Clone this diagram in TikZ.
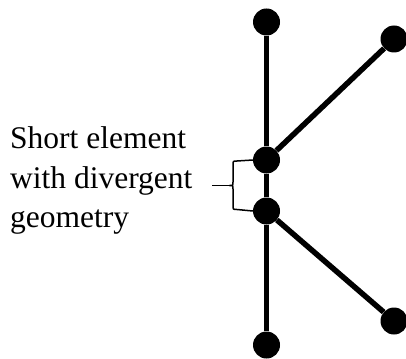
\documentclass[tikz,border=0pt]{standalone}
\usepackage{fontspec}
\setmainfont{Liberation Serif}
\usetikzlibrary{positioning}

\begin{document}
\begin{tikzpicture}[x=1pt, y=-1pt, dot/.style={circle, fill=black, minimum size=27pt, inner sep=0pt}, bar/.style={line width=5.5pt}, brace/.style={line width=1.5pt}]
    \useasboundingbox (0,0) rectangle (406,358);

    \node[dot] (v1) at (266.5,22) {};
    \node[dot] (v2) at (394,39) {};
    \node[dot] (v3) at (266.5,160) {};
    \node[dot] (v4) at (266.5,211) {};
    \node[dot] (v5) at (394,321) {};
    \node[dot] (v6) at (266.5,345) {};

    \draw[bar] (v1)--(v3)--(v4)--(v6);
    \draw[bar] (v3)--(v2);
    \draw[bar] (v4)--(v5);

    \node[align=left, anchor=west, inner sep=0pt, font=\fontsize{31.5}{39.5}\selectfont] (lbl) at (10,180.5) {Short element\\with divergent\\geometry};

    \coordinate (tip) at (229.5,185.5);
    \coordinate (lead) at (211.5,185.5);
    \draw[brace] (v3.west) -- (237,161) .. controls (233,161) .. (233,165) -- (233,182) .. controls (233,185.5) .. (tip) .. controls (233,185.5) .. (233,189) -- (233,205.5) .. controls (233,209.5) .. (237,209.5) -- (v4.west);
    \draw[brace] (tip) -- (lead);
\end{tikzpicture}
\end{document}
